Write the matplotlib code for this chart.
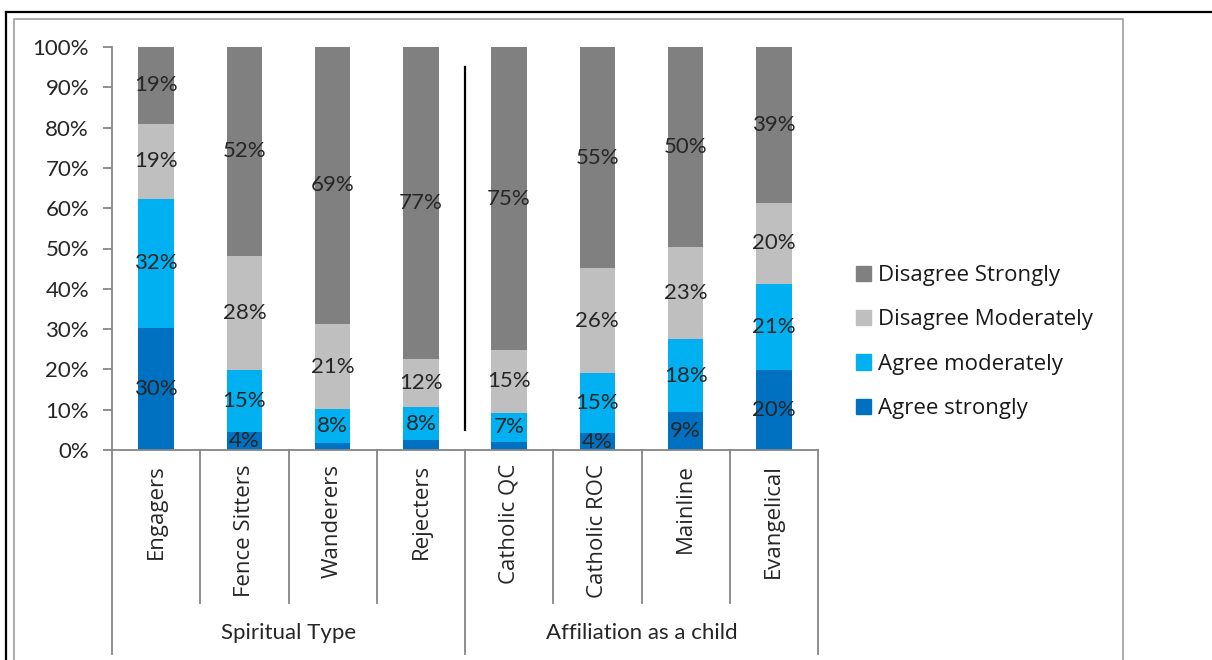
import numpy as np
import matplotlib
matplotlib.use("Agg")
import matplotlib.pyplot as plt
from matplotlib.lines import Line2D
from matplotlib.patches import Patch

# ----------------------------

categories = ["Engagers", "Fence Sitters", "Wanderers", "Rejecters",
              "Catholic QC", "Catholic ROC", "Mainline", "Evangelical"]

groups = ["Spiritual Type", "Affiliation as a child"]
group_sizes = [4, 4]

agree_strongly = [30.3, 4.4, 1.7, 2.4, 2.0, 4.2, 9.4, 19.9]
agree_moderately = [32.0, 15.4, 8.4, 8.2, 7.3, 14.9, 18.1, 21.3]
disagree_moderately = [18.7, 28.4, 21.2, 12.0, 15.4, 26.0, 22.9, 20.1]
disagree_strongly = [19.0, 51.8, 68.7, 77.4, 75.3, 54.9, 49.6, 38.7]

series_names = ["Agree strongly", "Agree moderately",
                "Disagree Moderately", "Disagree Strongly"]
colors = ["#0070c0", "#00b0f0", "#bfbfbf", "#808080"]

# ----------------------------

W, H = 1212, 660
fig = plt.figure(figsize=(W / 100, H / 100), dpi=100)

def fx(px):
    return px / W

def fy(py):
    return 1 - py / H

ax = fig.add_axes([fx(112), fy(450), fx(818) - fx(112), fy(47) - fy(450)])

series = [agree_strongly, agree_moderately, disagree_moderately, disagree_strongly]
x = np.arange(len(categories))
bottom = np.zeros(len(categories))
for vals, name, c in zip(series, series_names, colors):
    vals = np.array(vals)
    ax.bar(x, vals, width=0.4, bottom=bottom, color=c, label=name)
    for xi, v, b0 in zip(x, vals, bottom):
        if v >= 3:
            ax.text(xi, b0 + v / 2, f"{round(v)}%", ha="center", va="center",
                    fontsize=16, family="Lato", color="#262626")
    bottom += vals

ax.set_xlim(-0.5, len(categories) - 0.5)
ax.set_ylim(0, 100)
ax.set_yticks(np.arange(0, 101, 10))
ax.set_yticklabels([f"{t}%" for t in range(0, 101, 10)], fontsize=16,
                   family="Lato", color="#262626")
ax.set_xticks([])

for s in ["top", "right"]:
    ax.spines[s].set_visible(False)
for s in ["left", "bottom"]:
    ax.spines[s].set_color("#868686")
    ax.spines[s].set_linewidth(1.3)
ax.tick_params(axis="y", length=6.5, width=1.3, color="#868686", pad=10)

# separator between the two groups
ax.plot([3.5, 3.5], [5, 95], color="black", linewidth=1.6)

# category labels and dividers under the axis
tr = ax.get_xaxis_transform()
for i, cat in enumerate(categories):
    ax.text(i, -0.035, cat, rotation=90, ha="center", va="top",
            fontsize=16, family="Open Sans", color="#262626", transform=tr)
for i in range(1, len(categories)):
    if i % 4 != 0:
        ax.plot([i - 0.5, i - 0.5], [0, -0.38], color="#868686", lw=1.3,
                transform=tr, clip_on=False)

start = -0.5
for g, n in zip(groups, group_sizes):
    ax.plot([start, start], [0, -0.505], color="#868686", lw=1.3,
            transform=tr, clip_on=False)
    ax.text(start + n / 2, -0.455, g, ha="center", va="center",
            fontsize=16, family="Lato", color="#262626", transform=tr)
    start += n
ax.plot([start, start], [0, -0.505], color="#868686", lw=1.3,
        transform=tr, clip_on=False)

# legend
handles = [Patch(color=c, label=n) for c, n in zip(colors, series_names)][::-1]
fig.legend(handles=handles, loc="center left", bbox_to_anchor=(fx(856), fy(342)),
           frameon=False, prop={"family": "Open Sans", "size": 16},
           handlelength=0.68, handleheight=0.68, handletextpad=0.3,
           labelspacing=1.05, borderpad=0, borderaxespad=0,
           labelcolor="#1a1a1a")

# borders
fig.add_artist(Line2D([fx(6), 1], [fy(12), fy(12)], color="black", lw=1.6,
                      transform=fig.transFigure))
fig.add_artist(Line2D([fx(6), fx(6)], [fy(12), 0], color="black", lw=1.6,
                      transform=fig.transFigure))
fig.add_artist(Line2D([fx(14), fx(14), fx(1123), fx(1123)],
                      [0, fy(19), fy(19), 0], color="#a6a6a6", lw=1.3,
                      transform=fig.transFigure))

fig.savefig("out.png", dpi=100)
